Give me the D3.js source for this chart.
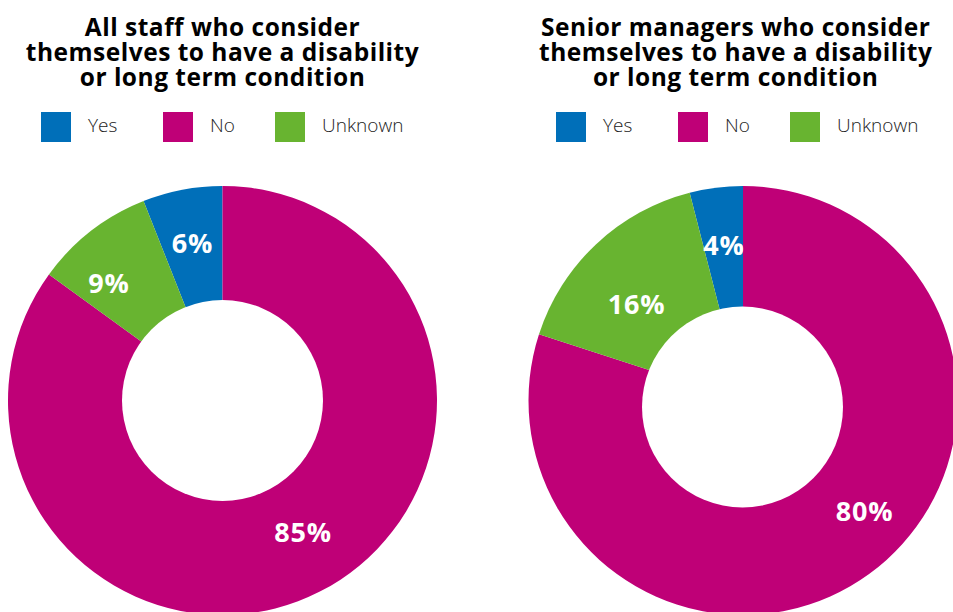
<!DOCTYPE html>
<html>
<head>
<meta charset="utf-8">
<script src="https://cdn.jsdelivr.net/npm/d3@7"></script>
<style>
  html, body { margin: 0; padding: 0; background: #fff; }
  svg { display: block; }
</style>
</head>
<body>
<svg id="chart" width="953" height="612"></svg>
<script>
// Response categories (legend order)
const categories = ["Yes", "No", "Unknown"];

// Percentages per category, same order as categories
const allStaffValues = [6, 85, 9];
const seniorManagerValues = [4, 80, 16];

// Chart titles, one entry per line
const allStaffTitle = ["All staff who consider", "themselves to have a disability", "or long term condition"];
const seniorManagerTitle = ["Senior managers who consider", "themselves to have a disability", "or long term condition"];

const colors = { Yes: "#006fb9", No: "#bf0077", Unknown: "#68b430" };

// Slices run anticlockwise from 12 o'clock in this order
const sliceOrder = ["Yes", "Unknown", "No"];

const panels = [
  {
    title: allStaffTitle, values: allStaffValues,
    cx: 222.5, cy: 400.5, titleX: 222.5, legendX: 41,
    hole: { dx: 0, dy: 0 },
    // label placement: extra rotation (degrees) from slice middle and distance from centre
    labelLayout: { Yes: { shift: 0, r: 161 }, Unknown: { shift: -6, r: 164 }, No: { shift: -4.5, r: 154 } }
  },
  {
    title: seniorManagerTitle, values: seniorManagerValues,
    cx: 743, cy: 400.5, titleX: 735.7, legendX: 556,
    hole: { dx: -0.5, dy: 6.5 },
    labelLayout: { Yes: { shift: 0.2, r: 157 }, Unknown: { shift: -4.5, r: 144 }, No: { shift: -11.8, r: 164 } }
  }
];

const outerR = 214.5;
const holeR = 100.5;
const legendOffsets = [0, 122, 234];

const svg = d3.select("#chart");

const pie = d3.pie()
  .sort((a, b) => sliceOrder.indexOf(a.cat) - sliceOrder.indexOf(b.cat))
  .value(d => d.value)
  .startAngle(0)
  .endAngle(-2 * Math.PI);

const arc = d3.arc().innerRadius(0).outerRadius(outerR);

panels.forEach(p => {
  const rows = categories.map((c, i) => ({ cat: c, value: p.values[i] }));

  // Title
  const title = svg.append("text")
    .attr("x", p.titleX)
    .attr("text-anchor", "middle")
    .attr("font-family", "'Open Sans', sans-serif")
    .attr("font-weight", 700)
    .attr("font-size", 24.5)
    .attr("letter-spacing", 0.5)
    .attr("fill", "#000");
  p.title.forEach((line, i) => {
    title.append("tspan").attr("x", p.titleX).attr("y", 36 + i * 25).text(line);
  });

  // Legend
  const legend = svg.append("g").attr("transform", `translate(${p.legendX},112)`);
  categories.forEach((c, i) => {
    const item = legend.append("g").attr("transform", `translate(${legendOffsets[i]},0)`);
    item.append("rect").attr("width", 30).attr("height", 30).attr("fill", colors[c]);
    item.append("text")
      .attr("x", 47).attr("y", 20)
      .attr("font-family", "'Open Sans', sans-serif")
      .attr("font-weight", 300)
      .attr("font-size", 19)
      .attr("fill", "#222")
      .text(c);
  });

  // Donut
  const g = svg.append("g").attr("transform", `translate(${p.cx},${p.cy})`);
  const arcs = pie(rows);
  g.selectAll("path.slice")
    .data(arcs)
    .join("path")
    .attr("class", "slice")
    .attr("d", arc)
    .attr("fill", d => colors[d.data.cat]);

  g.append("circle")
    .attr("cx", p.hole.dx).attr("cy", p.hole.dy)
    .attr("r", holeR)
    .attr("fill", "#fff");

  // Value labels
  g.selectAll("text.val")
    .data(arcs)
    .join("text")
    .attr("class", "val")
    .each(function (d) {
      const lay = p.labelLayout[d.data.cat];
      const a = (d.startAngle + d.endAngle) / 2 + lay.shift * Math.PI / 180;
      d3.select(this)
        .attr("x", Math.sin(a) * lay.r)
        .attr("y", -Math.cos(a) * lay.r);
    })
    .attr("text-anchor", "middle")
    .attr("dominant-baseline", "central")
    .attr("font-family", "'Open Sans', sans-serif")
    .attr("font-weight", 700)
    .attr("font-size", 27)
    .attr("letter-spacing", 0.8)
    .attr("fill", "#fff")
    .text(d => d.data.value + "%");
});
</script>
</body>
</html>
